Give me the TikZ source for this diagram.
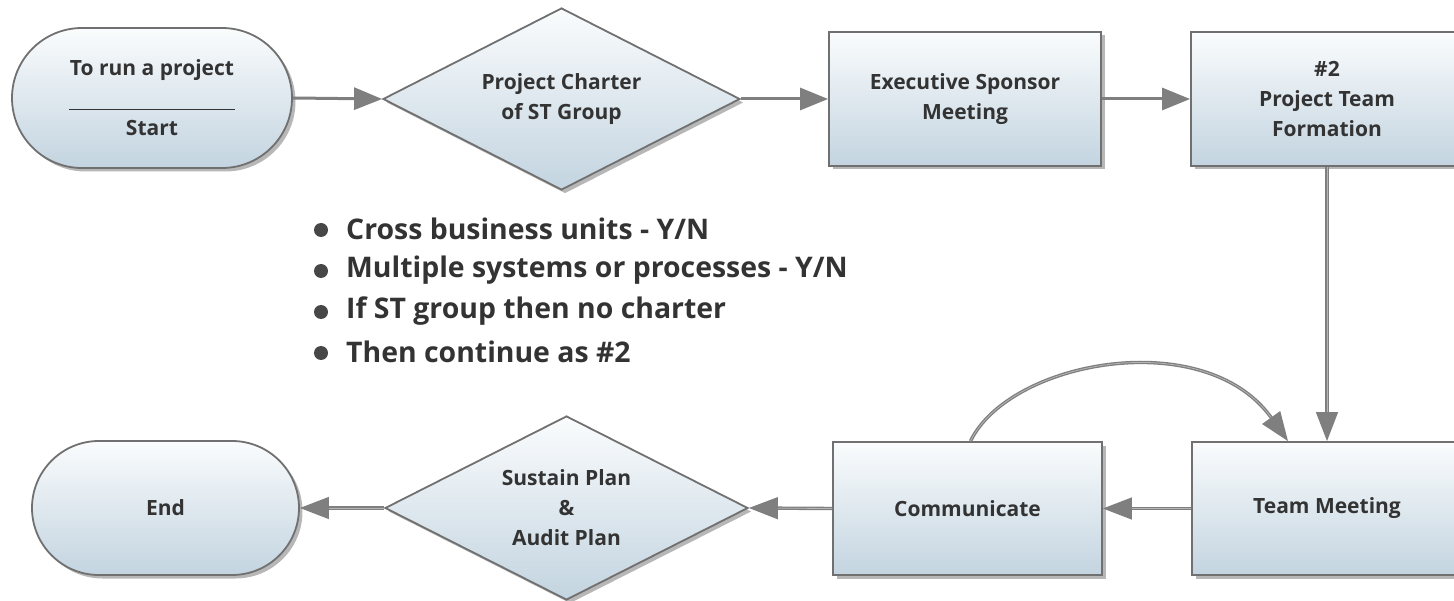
\documentclass[tikz,border=0pt]{standalone}
\usepackage{fontspec}
\setmainfont{Open Sans}
\usetikzlibrary{shapes.geometric,arrows.meta,shadows}
\definecolor{txt}{HTML}{333333}
\definecolor{bord}{HTML}{707070}
\definecolor{arr}{HTML}{7F7F7F}
\definecolor{arrlight}{HTML}{B5B5B5}
\definecolor{topc}{HTML}{FAFCFD}
\definecolor{botc}{HTML}{C3D4E0}
\tikzset{
  shapebase/.style={draw=bord, line width=1.8pt, top color=topc, bottom color=botc,
    text=txt, font=\bfseries\fontsize{21}{30}\selectfont, align=center, inner sep=0pt,
    drop shadow={shadow xshift=3.5pt, shadow yshift=-3.5pt, opacity=0.4, fill=black!70}},
  term/.style={shapebase, rectangle, rounded corners=#1},
  procbox/.style={shapebase, rectangle},
  decision/.style={shapebase, diamond, aspect=2},
  conn/.style={draw=arr, line width=3pt, -{Triangle[length=28pt,width=22pt]}},
  conndbl/.style={draw=arr, line width=1.3pt, double=arrlight, double distance=0.8pt,
    -{Triangle[length=29pt,width=22pt]}},
  bul/.style={text=txt, font=\bfseries\fontsize{28.4}{41}\selectfont, anchor=west, inner sep=0pt},
  dot/.style={circle, fill=txt!90, minimum size=14pt, inner sep=0pt}
}
\begin{document}
\begin{tikzpicture}[x=1pt, y=-1pt]
\useasboundingbox (0,0) rectangle (1454,601);
% top row
\node[term=70pt, minimum width=280pt, minimum height=140pt] (start) at (152,98)
  {To run a project\\[0pt]\rule[-4pt]{166pt}{0.9pt}\\Start};
\node[decision, minimum width=357pt, minimum height=182pt] (d1) at (561.5,99)
  {Project Charter\\of ST Group};
\node[procbox, minimum width=272pt, minimum height=134pt] (exec) at (965,99)
  {Executive Sponsor\\Meeting};
\node[procbox, minimum width=272pt, minimum height=134pt] (n2) at (1327,99)
  {\#2\\Project Team\\Formation};
% bottom row
\node[procbox, minimum width=270pt, minimum height=133pt] (team) at (1327,508.5)
  {Team Meeting};
\node[procbox, minimum width=269pt, minimum height=133pt] (comm) at (967.5,508.5)
  {Communicate};
\node[decision, minimum width=363pt, minimum height=184pt] (d2) at (566.5,508)
  {Sustain Plan\\\&\\Audit Plan};
\node[term=67pt, minimum width=267pt, minimum height=134pt] (end) at (165.5,508)
  {End};
% bullets
\node[dot] (b1) at (321,230) {};
\node[bul] (t1) at (346,229) {Cross business units - Y/N};
\node[dot] (b2) at (321,271) {};
\node[bul] (t2) at (346,270) {Multiple systems or processes - Y/N};
\node[dot] (b3) at (321,312) {};
\node[bul] (t3) at (346,311) {If ST group then no charter};
\node[dot] (b4) at (321,353) {};
\node[bul] (t4) at (346,352) {Then continue as \#2};
% connectors
\draw[conn] (start.east) -- (d1.west);
\draw[conn] (d1.east) -- (exec.west);
\draw[conn] (exec.east) -- (n2.west);
\draw[conndbl] (n2.south) -- (team.north);
\draw[conndbl] (team.west) -- (comm.east);
\draw[conndbl] (comm.west) -- (d2.east);
\draw[conndbl] (d2.west) -- (end.east);
\draw[conndbl] ([xshift=3pt]comm.north) .. controls (1010,360) and (1205,325) .. ([xshift=-39pt]team.north);
\end{tikzpicture}
\end{document}
